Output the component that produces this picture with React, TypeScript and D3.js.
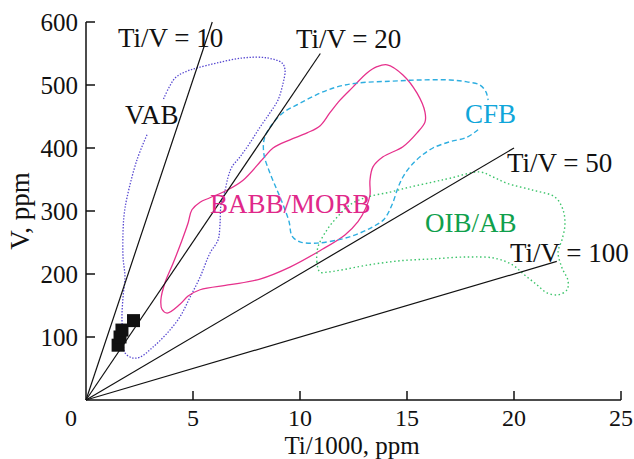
import React from "react";
import * as d3 from "d3";

// ---- data ----
const xTicks = [0, 5, 10, 15, 20, 25];
const yTicks = [100, 200, 300, 400, 500, 600];

// Ti/V reference lines: [Ti/1000, V] endpoints from origin
const ratioLines = [
  { label: "Ti/V = 10", end: [5.9, 600] },
  { label: "Ti/V = 20", end: [10.95, 550] },
  { label: "Ti/V = 50", end: [20, 400] },
  { label: "Ti/V = 100", end: [22, 220] },
];

// sample points [Ti/1000, V]
const samples: [number, number][] = [
  [1.5, 87],
  [1.59, 100],
  [1.68, 111],
  [2.22, 126],
];

// field contours [Ti/1000, V]
const vabField: [number, number][] = [
  [2.85, 421], [2.38, 381], [1.92, 322], [1.78, 294], [1.73, 265], [1.73, 227],
  [1.82, 195], [1.73, 163], [1.68, 132], [1.73, 100], [1.82, 75], [2.15, 67],
  [2.52, 68], [3.13, 84], [3.79, 106], [4.39, 132], [4.86, 163], [5.33, 195],
  [5.79, 233], [6.17, 254], [6.26, 278], [6.31, 310], [6.5, 333], [6.64, 354],
  [6.82, 370], [7.2, 386], [7.66, 408], [8.13, 433], [8.6, 456], [8.97, 476],
  [9.21, 503], [9.3, 524], [9.16, 535], [8.46, 543], [7.34, 543], [6.12, 535],
  [5.19, 527], [4.72, 522], [4.16, 511], [3.6, 476],
];

const babbField: [number, number][] = [
  [14.07, 532], [14.81, 516], [15.47, 487], [15.84, 457], [15.84, 441], [15.47, 424],
  [14.81, 402], [13.88, 386], [13.41, 370], [13.27, 349], [13.27, 325], [13.08, 305],
  [12.71, 283], [12.1, 262], [10.93, 237], [9.53, 211], [8.13, 192], [6.73, 183],
  [5.33, 175], [4.77, 165], [4.39, 152], [3.79, 138], [3.55, 144], [3.5, 159],
  [3.69, 186], [4.07, 217], [4.49, 254], [4.77, 281], [4.95, 302], [5.33, 314],
  [5.79, 321], [6.59, 333], [7.34, 349], [8.27, 383], [8.74, 400], [9.53, 413],
  [10.33, 424], [10.93, 435], [11.4, 456], [11.87, 476], [12.48, 497], [13.13, 519],
  [13.6, 529],
];

const cfbField: [number, number][] = [
  [18.32, 429], [17.8, 417], [17.01, 410], [16.21, 400], [15.61, 386], [15.14, 370],
  [14.81, 354], [14.58, 337], [14.3, 310], [13.93, 287], [13.41, 275], [12.8, 265],
  [12.01, 256], [10.79, 249], [10.0, 251], [9.63, 260], [9.49, 283], [9.21, 310],
  [8.93, 333], [8.6, 360], [8.32, 389], [8.32, 413], [8.6, 433], [9.21, 456],
  [10.0, 471], [10.93, 487], [11.73, 497], [12.66, 503], [14.21, 506], [15.61, 508],
  [17.01, 508], [17.8, 505], [18.41, 500], [18.69, 489], [18.79, 476],
];

const oibField: [number, number][] = [
  [10.93, 203], [10.79, 219], [10.84, 243], [11.26, 270], [11.73, 290], [12.34, 310],
  [13.13, 322], [14.21, 330], [15.14, 338], [16.21, 346], [17.01, 352], [18.41, 362],
  [19.02, 354], [19.67, 344], [20.89, 333], [21.92, 322], [22.29, 302], [22.38, 278],
  [22.24, 254], [22.06, 235], [22.24, 210], [22.52, 190], [22.48, 175], [22.06, 167],
  [21.54, 170], [21.07, 183], [20.51, 198], [19.95, 214], [19.11, 225], [17.8, 227],
  [16.21, 224], [14.67, 221], [13.13, 214], [11.87, 206], [11.26, 203],
];

const W = 634;
const H = 459;
const FONT = "'Liberation Serif', 'Times New Roman', serif";

export default function App() {
  const x = d3.scaleLinear().domain([0, 25]).range([86, 621]);
  const y = d3.scaleLinear().domain([0, 600]).range([400, 22]);

  const openLine = d3
    .line<[number, number]>()
    .x((d) => x(d[0]))
    .y((d) => y(d[1]))
    .curve(d3.curveCatmullRom.alpha(0.5));
  const closedLine = d3
    .line<[number, number]>()
    .x((d) => x(d[0]))
    .y((d) => y(d[1]))
    .curve(d3.curveCatmullRomClosed.alpha(0.5));

  const sq = 13;

  return (
    <svg
      width={W}
      height={H}
      viewBox={`0 0 ${W} ${H}`}
      style={{ position: "absolute", left: 0, top: 0, background: "#fff" }}
      fontFamily={FONT}
    >
      <rect width={W} height={H} fill="#fff" />

      {/* fields */}
      <path d={openLine(vabField) || ""} fill="none" stroke="#5546d0" strokeWidth={1.3} strokeDasharray="1.4 1.6" />
      <path d={closedLine(babbField) || ""} fill="none" stroke="#e6318c" strokeWidth={1.3} />
      <path d={openLine(cfbField) || ""} fill="none" stroke="#2eaee0" strokeWidth={1.4} strokeDasharray="5 3" />
      <path d={closedLine(oibField) || ""} fill="none" stroke="#3cc46a" strokeWidth={1.4} strokeDasharray="1.5 2.6" />

      {/* ratio lines */}
      {ratioLines.map((r) => (
        <line key={r.label} x1={x(0)} y1={y(0)} x2={x(r.end[0])} y2={y(r.end[1])} stroke="#111" strokeWidth={1.2} />
      ))}

      {/* samples */}
      {samples.map((s, i) => (
        <rect key={i} x={x(s[0]) - sq / 2} y={y(s[1]) - sq / 2} width={sq} height={sq} fill="#111" />
      ))}

      {/* axes */}
      <line x1={x(0)} y1={y(0)} x2={x(25)} y2={y(0)} stroke="#111" strokeWidth={1.5} />
      <line x1={x(0)} y1={y(0)} x2={x(0)} y2={y(600)} stroke="#111" strokeWidth={1.5} />
      {xTicks.filter((t) => t > 0).map((t) => (
        <line key={"xt" + t} x1={x(t)} x2={x(t)} y1={y(0)} y2={y(0) - 9} stroke="#111" strokeWidth={1.5} />
      ))}
      {yTicks.map((t) => (
        <line key={"yt" + t} x1={x(0)} x2={x(0) + 9} y1={y(t)} y2={y(t)} stroke="#111" strokeWidth={1.5} />
      ))}
      {xTicks.map((t) => (
        <text key={"xl" + t} x={t === 0 ? x(t) - 15 : x(t)} y={426} textAnchor="middle" fontSize={24} fill="#111">
          {t}
        </text>
      ))}
      {yTicks.map((t) => (
        <text key={"yl" + t} x={78} y={y(t) + 8.5} textAnchor="end" fontSize={25} fill="#111">
          {t}
        </text>
      ))}
      <text x={352} y={453.5} textAnchor="middle" fontSize={25} fill="#111">
        Ti/1000, ppm
      </text>
      <text transform="translate(29,211) rotate(-90)" textAnchor="middle" fontSize={27} fill="#111">
        V, ppm
      </text>

      {/* line labels */}
      <text x={118} y={47} fontSize={27} fill="#111">Ti/V = 10</text>
      <text x={296} y={48} fontSize={27} fill="#111">Ti/V = 20</text>
      <text x={507} y={172} fontSize={27} fill="#111">Ti/V = 50</text>
      <text x={510} y={262} fontSize={27} fill="#111">Ti/V = 100</text>

      {/* field labels */}
      <text x={125} y={124} fontSize={27} fill="#111">VAB</text>
      <text x={210} y={213} fontSize={27} fill="#e0288a">BABB/MORB</text>
      <text x={465} y={123} fontSize={27} fill="#10a6da">CFB</text>
      <text x={425} y={232} fontSize={27} fill="#10a04c">OIB/AB</text>
    </svg>
  );
}
